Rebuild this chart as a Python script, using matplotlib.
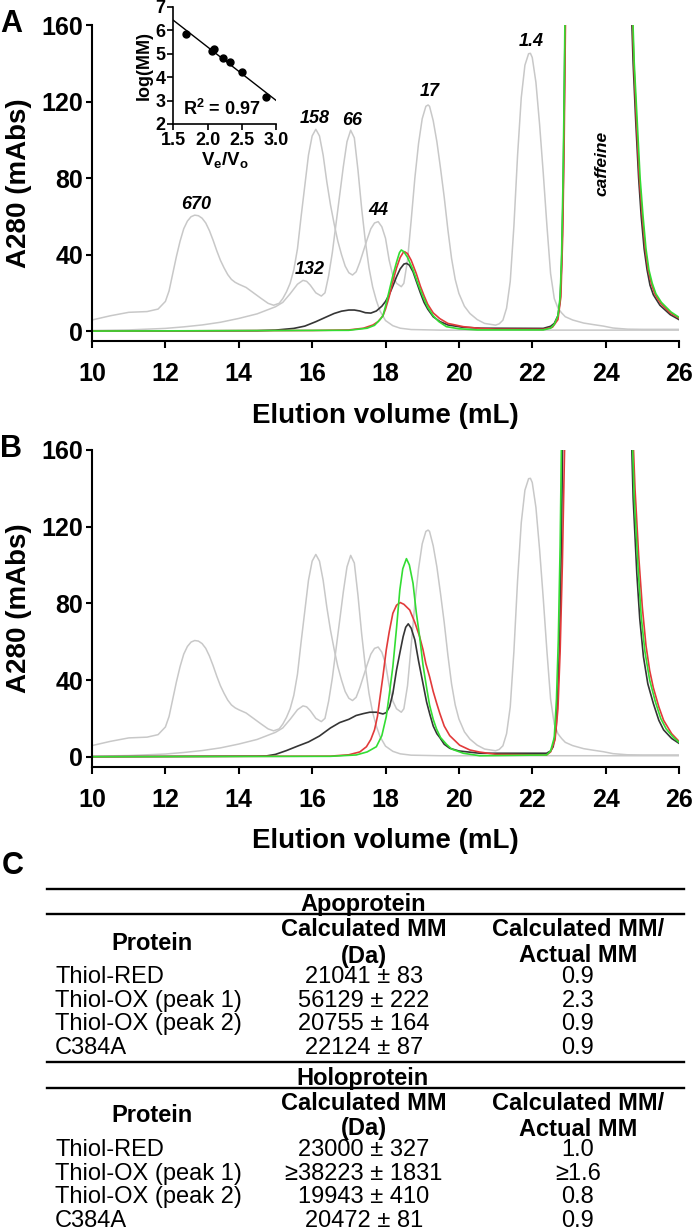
import numpy as np
import matplotlib.pyplot as plt

plt.rcParams['font.family'] = ['Liberation Sans', 'DejaVu Sans']
plt.rcParams['font.weight'] = 'bold'
plt.rcParams['axes.labelweight'] = 'bold'
plt.rcParams['mathtext.fontset'] = 'custom'
plt.rcParams['mathtext.rm'] = 'Liberation Sans:bold'
plt.rcParams['mathtext.it'] = 'Liberation Sans:italic:bold'
plt.rcParams['mathtext.bf'] = 'Liberation Sans:bold'

# grey standard runs (elution volume mL, A280 mAbs), same in A and B
std_biorad = [(10.0, 5.8), (10.5, 8.0), (11.0, 9.8), (11.5, 10.2), (11.8, 11.5), (12.0, 15.5),
              (12.1, 21), (12.2, 30), (12.3, 39), (12.4, 47), (12.5, 53.5), (12.6, 57.5),
              (12.7, 59.8), (12.8, 60.6), (12.9, 60.3), (13.0, 59), (13.1, 56.5), (13.2, 52.5),
              (13.3, 47.5), (13.4, 42), (13.5, 37), (13.6, 33), (13.7, 29.5), (13.8, 27),
              (13.9, 25.5), (14.0, 24.5), (14.2, 22.8), (14.4, 20), (14.6, 17.2), (14.8, 14.5),
              (14.95, 13.5), (15.1, 14.5), (15.2, 17), (15.3, 20.5), (15.4, 25), (15.5, 32),
              (15.6, 43), (15.7, 60), (15.8, 76), (15.9, 92), (16.0, 102), (16.1, 105.5),
              (16.2, 102), (16.3, 92), (16.4, 78), (16.5, 66), (16.6, 56), (16.7, 47),
              (16.8, 40), (16.9, 34), (17.0, 30.5), (17.1, 29.3), (17.2, 31), (17.3, 36),
              (17.4, 42), (17.5, 48), (17.6, 53.5), (17.7, 56.5), (17.8, 57.2), (17.9, 54.5),
              (18.0, 48.5), (18.1, 37), (18.2, 29), (18.3, 25), (18.43, 23.2), (18.5, 25),
              (18.6, 37), (18.7, 58), (18.8, 80), (18.9, 98), (19.0, 111), (19.1, 117.5),
              (19.16, 118.2), (19.2, 117.5), (19.3, 110), (19.4, 99), (19.5, 85), (19.6, 70),
              (19.7, 53), (19.8, 38), (19.9, 27), (20.0, 19.7), (20.15, 13), (20.3, 9.2),
              (20.5, 6), (20.7, 4), (21.0, 3.1), (21.1, 3.8), (21.2, 5.7), (21.3, 12),
              (21.4, 26), (21.5, 55), (21.6, 92), (21.7, 122), (21.8, 139), (21.9, 145),
              (21.95, 145.2), (22.0, 143), (22.1, 130), (22.2, 108), (22.3, 82.5), (22.4, 55),
              (22.5, 30), (22.6, 17), (22.7, 12), (22.8, 9.5), (22.9, 7.5), (23.1, 5.8),
              (23.4, 4.2), (23.66, 3.4), (23.94, 2.6), (24.2, 1.6), (24.6, 1.0), (25.0, 0.9),
              (26.0, 0.9)]
std_bsa = [(10.0, 0.3), (11.0, 0.6), (12.0, 1.4), (12.5, 2.2), (13.0, 3.2), (13.5, 4.6),
           (14.0, 6.6), (14.5, 9), (15.0, 12.7), (15.2, 15), (15.4, 19.5), (15.5, 22),
           (15.6, 24.5), (15.75, 26.5), (15.85, 26), (15.95, 24), (16.1, 20), (16.25, 18.3),
           (16.35, 20), (16.45, 29), (16.55, 41), (16.65, 56), (16.75, 71), (16.85, 86),
           (16.95, 99), (17.05, 105), (17.15, 101), (17.25, 84), (17.35, 64), (17.45, 47),
           (17.55, 33), (17.65, 23), (17.75, 16), (17.85, 10.5), (18.0, 5.5), (18.2, 2.8),
           (18.4, 1.5), (18.7, 0.8), (19.5, 0.5), (26.0, 0.5)]

# panel A, apoprotein (values above 160 are off scale)
apo_black = [(10.0, 0), (14.5, 0.2), (15.0, 0.5), (15.5, 1.4), (15.8, 2.6), (16.1, 4.9),
             (16.4, 7.5), (16.6, 9.2), (16.8, 10.4), (17.0, 11), (17.15, 11), (17.3, 10.5),
             (17.45, 9.6), (17.6, 9.4), (17.75, 10.5), (17.9, 13), (18.0, 15.5), (18.1, 19),
             (18.2, 23.5), (18.3, 28.4), (18.4, 32.5), (18.5, 35), (18.57, 35.4), (18.65, 34.5),
             (18.75, 31), (18.84, 26), (18.95, 20), (19.05, 15), (19.15, 11.5), (19.3, 7.5),
             (19.48, 5), (19.7, 3.2), (20.1, 2.0), (20.6, 1.5), (22.3, 1.4), (22.5, 2.5),
             (22.6, 4), (22.7, 8), (22.76, 16), (22.8, 35), (22.84, 70), (22.87, 115),
             (22.9, 170), (22.95, 400), (24.65, 400), (24.7, 170), (24.75, 140), (24.82, 110),
             (24.9, 80), (24.97, 60), (25.05, 43), (25.13, 32), (25.21, 24), (25.3, 19),
             (25.48, 13.5), (25.76, 8.6), (26.0, 6.0)]
apo_red = [(10.0, 0), (16.0, 0.3), (17.0, 0.6), (17.4, 1.5), (17.66, 3.2), (17.8, 5),
           (17.93, 8), (18.0, 11.5), (18.1, 18), (18.2, 26), (18.3, 33), (18.4, 38.5),
           (18.48, 41), (18.52, 41.5), (18.6, 40.5), (18.7, 37), (18.84, 30), (18.95, 23.5),
           (19.05, 18.5), (19.15, 14), (19.3, 9.5), (19.48, 6.5), (19.7, 4), (20.12, 2.3),
           (20.57, 1.4), (21.0, 1.0), (22.3, 0.9), (22.55, 2), (22.7, 6), (22.78, 18),
           (22.83, 50), (22.87, 100), (22.91, 170), (22.96, 400), (24.67, 400), (24.72, 170),
           (24.77, 140), (24.84, 110), (24.92, 80), (25.0, 60), (25.08, 43), (25.16, 32),
           (25.25, 24.5), (25.35, 19), (25.5, 14.5), (25.76, 9.5), (26.0, 6.8)]
apo_green = [(10.0, 0), (17.0, 0.4), (17.5, 1.5), (17.7, 3), (17.85, 6), (17.93, 8),
             (18.0, 13), (18.1, 21), (18.2, 29), (18.3, 36), (18.38, 41), (18.43, 42.4),
             (18.5, 41.5), (18.6, 38.5), (18.75, 32), (18.88, 25), (19.02, 18), (19.15, 12.5),
             (19.3, 8), (19.45, 5), (19.66, 2.3), (20.0, 1.2), (20.5, 0.6), (22.3, 0.6),
             (22.5, 1.5), (22.6, 3.5), (22.7, 8), (22.76, 18), (22.8, 40), (22.84, 80),
             (22.87, 125), (22.9, 180), (22.95, 400), (24.68, 400), (24.73, 170), (24.78, 140),
             (24.86, 110), (24.94, 80), (25.02, 60), (25.1, 43), (25.18, 32), (25.27, 25),
             (25.37, 19.5), (25.52, 15), (25.78, 10), (26.0, 7.2)]

# panel B, holoprotein
holo_black = [(10.0, 0), (14.5, 0.3), (14.75, 0.4), (15.0, 1.2), (15.3, 3.2), (15.6, 5.5),
              (15.9, 7.7), (16.2, 10.8), (16.5, 15), (16.75, 17.8), (17.0, 19.5), (17.2, 21.5),
              (17.4, 22.5), (17.57, 23.2), (17.75, 23.2), (17.93, 22.3), (18.02, 23),
              (18.11, 26.1), (18.2, 33), (18.3, 45.2), (18.4, 55), (18.48, 62.6), (18.55, 67.5),
              (18.62, 69.3), (18.7, 67), (18.8, 60.9), (18.9, 50), (19.02, 38.3), (19.12, 28.5),
              (19.21, 22), (19.3, 16), (19.4, 12), (19.48, 10), (19.6, 6.5), (19.75, 4.4),
              (20.0, 3), (20.57, 1.8), (22.39, 1.8), (22.5, 3), (22.57, 5.2), (22.65, 15),
              (22.7, 35), (22.75, 60.9), (22.8, 120), (22.83, 170), (22.88, 400), (24.65, 400),
              (24.7, 170), (24.75, 135), (24.85, 95.6), (24.93, 72), (25.03, 52.2), (25.15, 38),
              (25.3, 27.8), (25.45, 19), (25.58, 14), (25.8, 9.5), (26.0, 7)]
holo_red = [(10.0, 0), (16.5, 0.3), (17.0, 1), (17.3, 2.5), (17.48, 5.2), (17.6, 9),
            (17.7, 14), (17.78, 21), (17.84, 29.6), (17.93, 42), (18.02, 55.7), (18.1, 65),
            (18.2, 74.8), (18.3, 79), (18.4, 80.4), (18.5, 79.5), (18.66, 76.5), (18.8, 70),
            (18.93, 62.6), (19.02, 56), (19.1, 48.5), (19.2, 41.8), (19.3, 34), (19.4, 27.5),
            (19.48, 22.6), (19.6, 16), (19.75, 11), (20.02, 6), (20.3, 3.5), (20.57, 2.4),
            (21.03, 1.2), (22.39, 0.9), (22.5, 2.5), (22.62, 8.7), (22.7, 25), (22.76, 55),
            (22.82, 100), (22.87, 150), (22.9, 180), (22.95, 400), (24.7, 400), (24.74, 170),
            (24.8, 140), (24.9, 105), (25.0, 78), (25.1, 58), (25.2, 45), (25.3, 36),
            (25.45, 26), (25.58, 19), (25.8, 12), (26.0, 8)]
holo_green = [(10.0, 0), (16.5, 0.2), (17.2, 0.9), (17.5, 2.5), (17.75, 5.2), (17.9, 11),
              (18.02, 20.9), (18.1, 32), (18.2, 47), (18.3, 67), (18.39, 87), (18.47, 98),
              (18.57, 103.3), (18.65, 100), (18.75, 90.4), (18.84, 75), (18.93, 62.6),
              (19.02, 48), (19.12, 36), (19.2, 27), (19.3, 19.5), (19.39, 14.5), (19.5, 10),
              (19.66, 6.5), (19.8, 4), (20.12, 1.8), (20.57, 0.5), (22.39, 0.9), (22.5, 3),
              (22.6, 10), (22.66, 30), (22.71, 60.9), (22.76, 110), (22.8, 170), (22.85, 400),
              (24.68, 400), (24.72, 170), (24.78, 135), (24.88, 100), (24.97, 73), (25.07, 55),
              (25.2, 40), (25.35, 29), (25.5, 20), (25.65, 14.5), (25.85, 10), (26.0, 7.5)]

# peak labels (kDa) for panel A
peak_names = ['670', '132', '158', '66', '44', '17', '1.4']
peak_pos = [(12.84, 66), (15.93, 32.3), (16.08, 111.2), (17.1, 110), (17.81, 63.2),
            (19.2, 125.4), (21.98, 151.3)]

# calibration inset
ve_vo = [1.685, 2.06, 2.10, 2.23, 2.33, 2.51, 2.86]
log_mm = [5.83, 5.12, 5.20, 4.82, 4.64, 4.23, 3.13]

# table
proteins = ['Thiol-RED', 'Thiol-OX (peak 1)', 'Thiol-OX (peak 2)', 'C384A']
apo_mm = ['21041 ± 83', '56129 ± 222', '20755 ± 164', '22124 ± 87']
apo_ratio = ['0.9', '2.3', '0.9', '0.9']
holo_mm = ['23000 ± 327', '≥38223 ± 1831', '19943 ± 410', '20472 ± 81']
holo_ratio = ['1.0', '≥1.6', '0.8', '0.9']

GREY = '#c8c8c8'
BLACK = '#353535'
RED = '#e23a3a'
GREEN = '#33dd33'


def style_axes(ax):
    ax.set_xlim(10, 26)
    ax.set_ylim(-5.2, 160)
    ax.set_xticks(range(10, 27, 2))
    ax.set_yticks([0, 40, 80, 120, 160])
    ax.spines[['top', 'right']].set_visible(False)
    ax.spines[['left', 'bottom']].set_linewidth(1.5)
    ax.tick_params(axis='x', length=5, width=1.5, pad=10, labelsize=18)
    ax.tick_params(axis='y', length=4.5, width=1.5, pad=2, labelsize=18)
    ax.set_xlabel('Elution volume (mL)', fontsize=20, labelpad=12)
    ax.set_ylabel('A280 (mAbs)', fontsize=20, labelpad=7)


def chromatogram(ax, black, red, green):
    for std in (std_biorad, std_bsa):
        x, y = np.array(std).T
        ax.plot(x, y, color=GREY, lw=1.1)
    for trace, col in ((black, BLACK), (red, RED), (green, GREEN)):
        x, y = np.array(trace).T
        ax.plot(x, y, color=col, lw=1.2)
    style_axes(ax)


fig = plt.figure(figsize=(6.93, 12.32), dpi=100)

axa = fig.add_axes([0.1328, 0.7232, 0.8470, 0.2565])
chromatogram(axa, apo_black, apo_red, apo_green)
for name, (px, py) in zip(peak_names, peak_pos):
    axa.text(px, py, name, fontsize=13, style='italic', ha='center', va='center')
axa.text(23.89, 87.7, 'caffeine', fontsize=12.5, style='italic', rotation=90,
         ha='center', va='center')

axb = fig.add_axes([0.1328, 0.3777, 0.8470, 0.2571])
chromatogram(axb, holo_black, holo_red, holo_green)

# inset calibration curve
axi = fig.add_axes([0.2501, 0.8994, 0.1482, 0.0950])
axi.plot(ve_vo, log_mm, 'o', color='black', ms=5)
slope, icpt = np.polyfit(ve_vo, log_mm, 1)
xf = np.array([1.5, 3.0])
axi.plot(xf, slope * xf + icpt, color='black', lw=1)
axi.set_xlim(1.5, 3.0)
axi.set_ylim(2, 7)
axi.set_xticks([1.5, 2.0, 2.5, 3.0])
axi.set_yticks([2, 3, 4, 5, 6, 7])
axi.spines[['top', 'right']].set_visible(False)
axi.spines[['left', 'bottom']].set_linewidth(1.2)
axi.tick_params(length=4, width=1.2, pad=1.5, labelsize=13)
axi.set_xlabel(r'V$_\mathrm{e}$/V$_\mathrm{o}$', fontsize=13.5, labelpad=1)
axi.set_ylabel('log(MM)', fontsize=13, labelpad=2)
axi.text(2.21, 2.62, r'R$^\mathrm{2}$ = 0.97', fontsize=13, ha='center', va='center')

# overlay in pixel coordinates for panel letters and the table
axt = fig.add_axes([0, 0, 1, 1])
axt.set_xlim(0, 693)
axt.set_ylim(1232, 0)
axt.axis('off')
axt.text(0, 24, 'A', fontsize=22, va='center')
axt.text(0, 449, 'B', fontsize=22, va='center')
axt.text(2, 866, 'C', fontsize=22, va='center')

for yl in (889, 914, 1062, 1088):
    axt.plot([47, 684], [yl, yl], color='black', lw=1.7)

col1, col2, col3 = 55, 364, 578
for top, title, mm, ratio in ((889, 'Apoprotein', apo_mm, apo_ratio),
                              (1062, 'Holoprotein', holo_mm, holo_ratio)):
    axt.text(363, top + 16, title, fontsize=17, ha='center', va='center')
    axt.text(152, top + 54, 'Protein', fontsize=17, ha='center', va='center')
    axt.text(col2, top + 41, 'Calculated MM', fontsize=17, ha='center', va='center')
    axt.text(col2, top + 67, '(Da)', fontsize=17, ha='center', va='center')
    axt.text(col3, top + 41, 'Calculated MM/', fontsize=17, ha='center', va='center')
    axt.text(col3, top + 67, 'Actual MM', fontsize=17, ha='center', va='center')
    for i in range(4):
        ry = top + 88 + 23.7 * i
        axt.text(col1, ry, proteins[i], fontsize=17, weight='normal', ha='left', va='center')
        axt.text(col2, ry, mm[i], fontsize=17, weight='normal', ha='center', va='center')
        axt.text(col3, ry, ratio[i], fontsize=17, weight='normal', ha='center', va='center')

fig.savefig('out.png', dpi=100)
